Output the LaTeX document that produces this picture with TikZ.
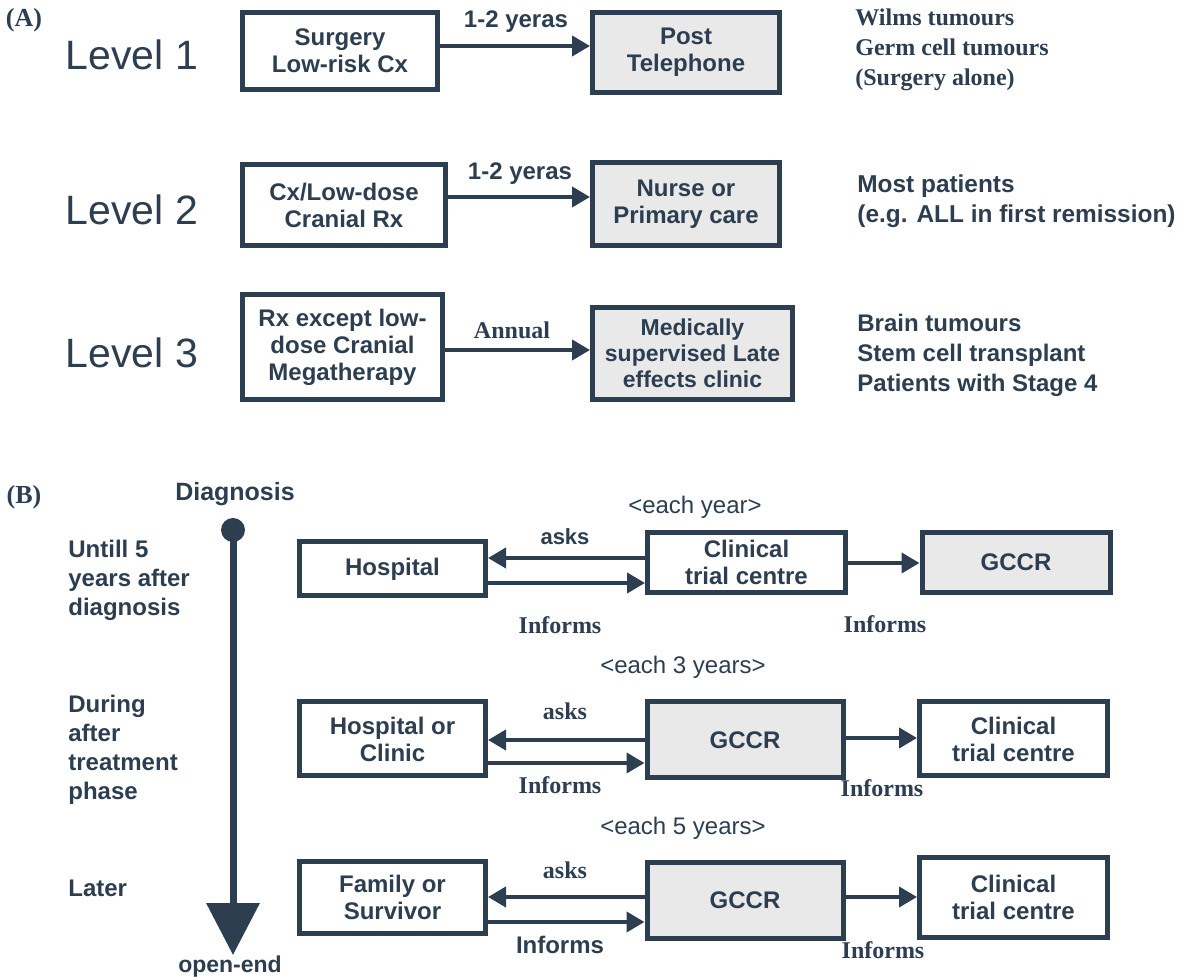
\documentclass[tikz,border=0pt]{standalone}
\usepackage{fontspec}
\setmainfont{Liberation Serif}
\setsansfont{Liberation Sans}
\usetikzlibrary{
    arrows.meta,
    positioning
}
\definecolor{ink}{RGB}{44,62,80}
\definecolor{boxgrey}{RGB}{233,233,233}
\newcommand\setfs[2]{\fontsize{#1}{#2}\selectfont}
\tikzset{
    every picture/.style = {
        > = {Triangle[length = 9pt, width = 10pt]}
    },
    box/.style = {
        draw = ink,
        line width = 2.5pt,
        inner sep = 0pt,
        align = center,
        text = ink,
        font = \sffamily\bfseries\setfs{12}{13.5}
    },
    greybox/.style = {box, fill = boxgrey},
    link/.style = {->, draw = ink, line width = 2pt},
    level/.style = {text = ink, font = \sffamily\setfs{20.5}{24}},
    sanslab/.style = {
        inner sep = 0pt,
        align = left,
        text = ink,
        font = \sffamily\bfseries\setfs{12}{14.5}
    },
    seriflab/.style = {
        inner sep = 0pt,
        align = left,
        text = ink,
        font = \rmfamily\bfseries\setfs{12}{15}
    },
    period/.style = {inner sep = 0pt, text = ink, font = \sffamily\setfs{12}{14}}
}

\begin{document}
\begin{tikzpicture}[x = 0.5pt, y = -0.5pt]
    \useasboundingbox (0, 0) rectangle (1194, 977);

    % (A)
    \node[seriflab, font = \rmfamily\bfseries\setfs{13}{15}] (A) at (24, 20) {(A)};

    \node[level] (lev1) at (132, 55) {Level 1};
    \node[level] (lev2) at (132, 210) {Level 2};
    \node[level] (lev3) at (132, 353) {Level 3};

    \node[box, minimum width = 97.5pt, minimum height = 38.5pt] (surg) at (340, 51) {Surgery\\Low-risk Cx};
    \node[greybox, minimum width = 93.5pt, minimum height = 40pt] (post) at (686, 52.5) {Post\\Telephone};
    \draw[link] (surg.east |- 0, 46) -- (post.west |- 0, 46);
    \node[sanslab] (y1) at (516, 22) {1-2 yeras};
    \node[seriflab, anchor = west] (grp1) at (855, 50) {Wilms tumours\\Germ cell tumours\\(Surgery alone)};

    \node[box, minimum width = 101.5pt, minimum height = 40.5pt] (cx) at (344, 205) {Cx/Low-dose\\Cranial Rx};
    \node[greybox, minimum width = 93.5pt, minimum height = 41.5pt] (nurse) at (686, 204) {Nurse or\\Primary care};
    \draw[link] (cx.east |- 0, 197) -- (nurse.west |- 0, 197);
    \node[sanslab] (y2) at (520, 174) {1-2 yeras};
    \node[sanslab, anchor = west, font = \sffamily\bfseries\setfs{12.2}{15}] (grp2) at (857, 201) {Most patients\\(e.g. ALL in first remission)};

    \node[box, minimum width = 100pt, minimum height = 52.5pt] (rx) at (342.5, 347) {Rx except low-\\dose Cranial\\Megatherapy};
    \node[greybox, minimum width = 100pt, minimum height = 46pt, font = \sffamily\bfseries\setfs{11.5}{13}] (clinic) at (692.5, 353.5) {Medically\\supervised Late\\effects clinic};
    \draw[link] (rx.east |- 0, 350) -- (clinic.west |- 0, 350);
    \node[seriflab] (ann) at (512, 330) {Annual};
    \node[sanslab, anchor = west, font = \sffamily\bfseries\setfs{12}{15}] (grp3) at (857, 355) {Brain tumours\\Stem cell transplant\\Patients with Stage 4};

    % (B)
    \node[seriflab, font = \rmfamily\bfseries\setfs{13}{15}] (B) at (24, 497) {(B)};
    \node[sanslab, font = \sffamily\bfseries\setfs{12.5}{15}] (diag) at (235, 494) {Diagnosis};
    \node[circle, fill = ink, inner sep = 0pt, minimum size = 12pt] (dot) at (233, 530) {};
    \coordinate (tip) at (233, 955);
    \draw[draw = ink, line width = 3.5pt, -{Triangle[length = 26pt, width = 26pt]}] (dot.center) -- (tip);
    \node[sanslab, font = \sffamily\bfseries\setfs{11.5}{14}] (open) at (230, 967) {open-end};

    \node[sanslab, anchor = west] (ph1) at (68, 580) {Untill 5\\years after\\diagnosis};
    \node[sanslab, anchor = west] (ph2) at (68, 750) {During\\after\\treatment\\phase};
    \node[sanslab, anchor = west] (ph3) at (68, 888) {Later};

    \node[period] (ev1) at (695, 507) {<each year>};
    \node[box, minimum width = 93pt, minimum height = 27pt] (hosp) at (392.5, 569) {Hospital};
    \node[box, minimum width = 99pt, minimum height = 30pt] (ctc1) at (746.5, 562.5) {Clinical\\trial centre};
    \node[greybox, minimum width = 94pt, minimum height = 30pt] (gccr1) at (1016, 562.5) {GCCR};
    \draw[link] (ctc1.west |- 0, 558) -- (hosp.east |- 0, 558);
    \draw[link] (hosp.east |- 0, 583) -- (ctc1.west |- 0, 583);
    \draw[link] (ctc1.east |- 0, 563) -- (gccr1.west |- 0, 563);
    \node[sanslab, font = \sffamily\bfseries\setfs{11}{13}] (ask1) at (565, 537) {asks};
    \node[seriflab] (inf1) at (560, 625) {Informs};
    \node[seriflab] (inf2) at (885, 624) {Informs};

    \node[period] (ev3) at (683, 667) {<each 3 years>};
    \node[box, minimum width = 93pt, minimum height = 37pt] (hcl) at (392.5, 739) {Hospital or\\Clinic};
    \node[greybox, minimum width = 98pt, minimum height = 38pt] (gccr2) at (745, 740) {GCCR};
    \node[box, minimum width = 94pt, minimum height = 37pt] (ctc2) at (1013.5, 739) {Clinical\\trial centre};
    \draw[link] (gccr2.west |- 0, 740) -- (hcl.east |- 0, 740);
    \draw[link] (hcl.east |- 0, 763) -- (gccr2.west |- 0, 763);
    \draw[link] (gccr2.east |- 0, 738) -- (ctc2.west |- 0, 738);
    \node[seriflab] (ask2) at (565, 711) {asks};
    \node[seriflab] (inf3) at (560, 785) {Informs};
    \node[seriflab] (inf4) at (882, 788) {Informs};

    \node[period] (ev5) at (683, 828) {<each 5 years>};
    \node[box, minimum width = 93pt, minimum height = 36pt] (fam) at (392.5, 897.5) {Family or\\Survivor};
    \node[greybox, minimum width = 98pt, minimum height = 38pt] (gccr3) at (745, 900) {GCCR};
    \node[box, minimum width = 94pt, minimum height = 40pt] (ctc3) at (1013.5, 897.5) {Clinical\\trial centre};
    \draw[link] (gccr3.west |- 0, 897) -- (fam.east |- 0, 897);
    \draw[link] (fam.east |- 0, 922) -- (gccr3.west |- 0, 922);
    \draw[link] (gccr3.east |- 0, 897) -- (ctc3.west |- 0, 897);
    \node[seriflab] (ask3) at (565, 870) {asks};
    \node[sanslab] (inf5) at (560, 945) {Informs};
    \node[seriflab] (inf6) at (883, 950) {Informs};
\end{tikzpicture}
\end{document}
